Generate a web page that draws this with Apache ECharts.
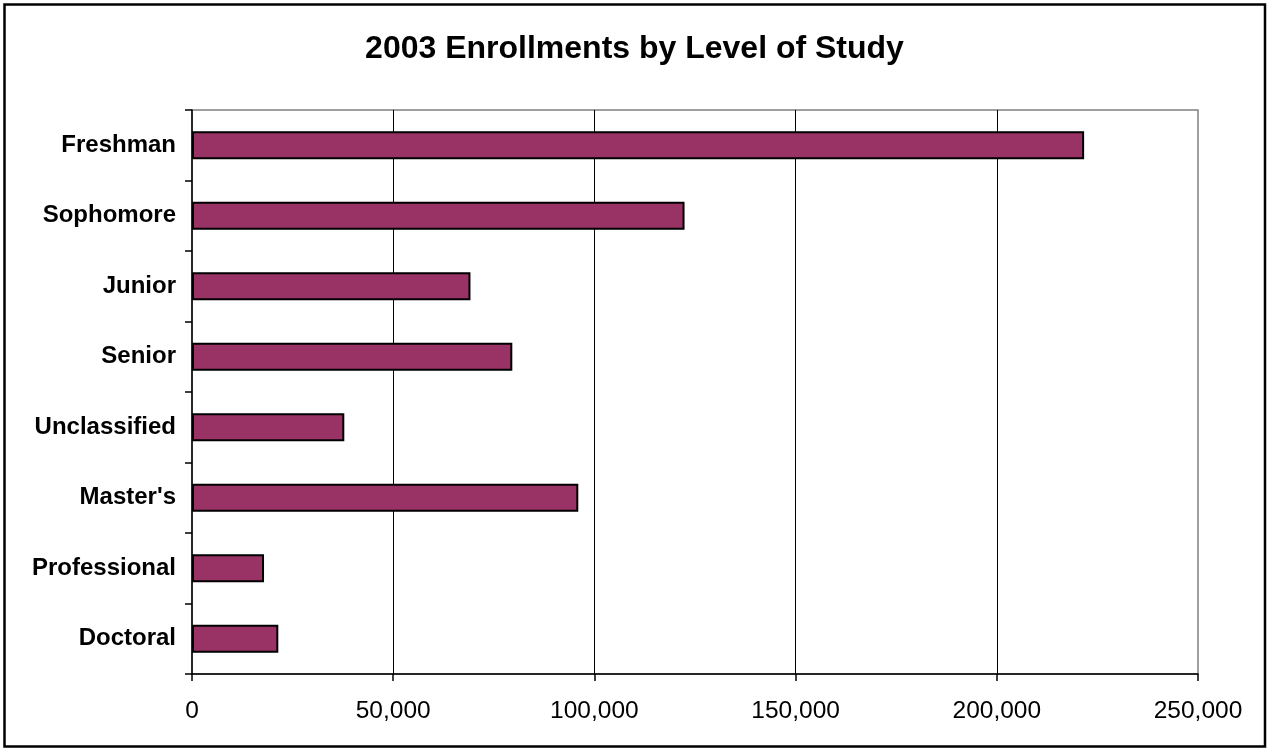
<!DOCTYPE html>
<html>
<head>
<meta charset="utf-8">
<script src="https://cdn.jsdelivr.net/npm/echarts@6/dist/echarts.min.js"></script>
<style>html,body{margin:0;padding:0;background:#fff}#c{width:1269px;height:749px}</style>
</head>
<body>
<div id="c"></div>
<script>
const titleText = '2003 Enrollments by Level of Study';
const categories = ['Freshman', 'Sophomore', 'Junior', 'Senior', 'Unclassified', "Master's", 'Professional', 'Doctoral'];
const enrollments = [221700, 122400, 69200, 79600, 37850, 96000, 17900, 21450];
const xTicks = { min: 0, max: 250000, interval: 50000 };

const chart = echarts.init(document.getElementById('c'), null, { renderer: 'canvas' });
chart.setOption({
  backgroundColor: '#ffffff',
  animation: false,
  title: {
    text: titleText,
    left: 'center',
    top: 28,
    textStyle: { fontFamily: 'Liberation Sans, Arial, sans-serif', fontWeight: 'bold', fontSize: 32, color: '#000' }
  },
  graphic: [{
    type: 'rect',
    shape: { x: 4.5, y: 4.5, width: 1260.5, height: 742 },
    style: { fill: 'none', stroke: '#000', lineWidth: 2.5 },
    silent: true
  }],
  grid: { left: 192, right: 71, top: 110, bottom: 75, show: true, borderColor: '#808080', borderWidth: 1.5, backgroundColor: 'transparent' },
  xAxis: {
    type: 'value',
    min: xTicks.min, max: xTicks.max, interval: xTicks.interval,
    axisLine: { show: true, lineStyle: { color: '#000', width: 1.5 } },
    axisTick: { show: true, length: 7, lineStyle: { color: '#000', width: 1.5 } },
    axisLabel: {
      margin: 25,
      color: '#000',
      fontFamily: 'Liberation Sans, Arial, sans-serif',
      fontSize: 24.5,
      formatter: v => v.toLocaleString('en-US')
    },
    splitLine: { show: true, showMinLine: false, showMaxLine: false, lineStyle: { color: '#000', width: 1 } }
  },
  yAxis: {
    type: 'category',
    inverse: true,
    data: categories,
    axisLine: { show: true, lineStyle: { color: '#000', width: 1.5 } },
    axisTick: { show: true, length: 7, lineStyle: { color: '#000', width: 1.5 } },
    axisLabel: {
      margin: 16,
      color: '#000',
      fontFamily: 'Liberation Sans, Arial, sans-serif',
      fontWeight: 'bold',
      fontSize: 24
    }
  },
  series: [{
    type: 'bar',
    data: enrollments,
    barCategoryGap: '60%',
    itemStyle: { color: '#993366', borderColor: '#000', borderWidth: 2 }
  }]
});
</script>
</body>
</html>
